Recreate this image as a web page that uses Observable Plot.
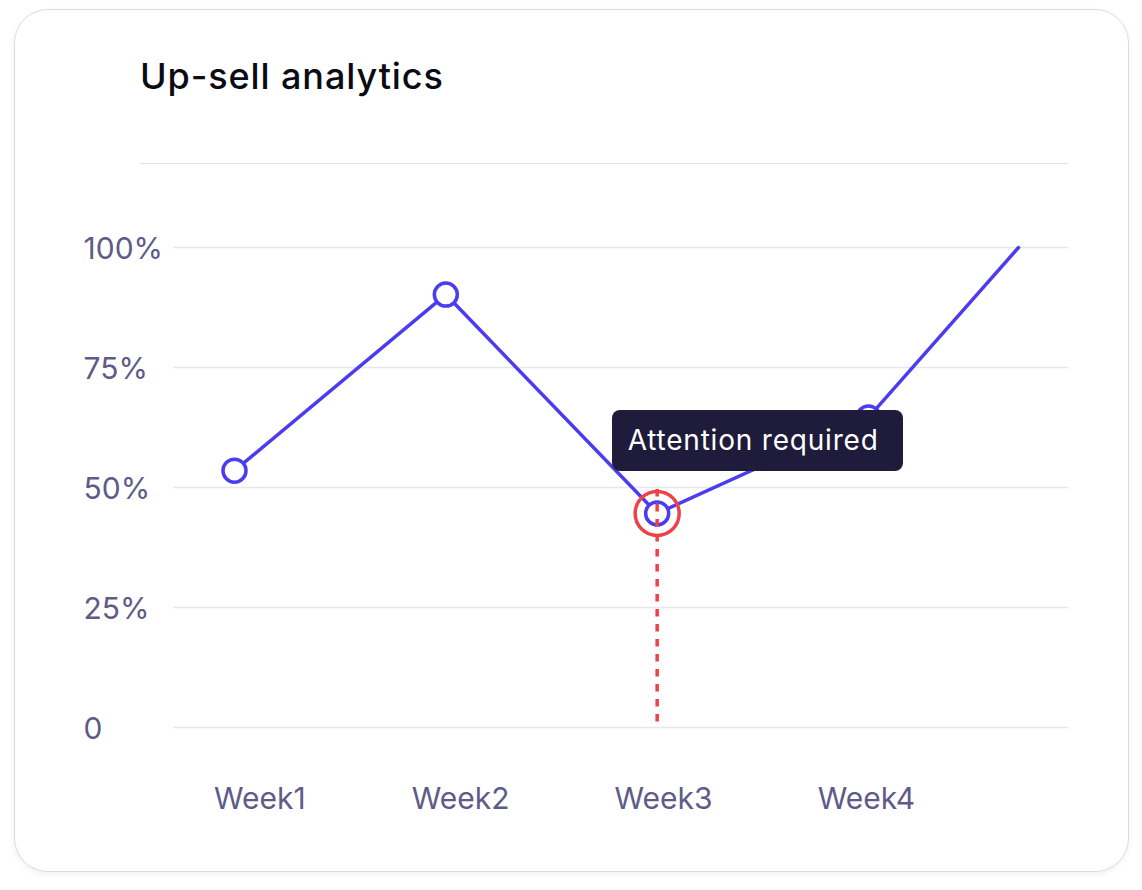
<!DOCTYPE html>
<html>
<head>
<meta charset="utf-8">
<script src="https://cdn.jsdelivr.net/npm/d3@7"></script>
<script src="https://cdn.jsdelivr.net/npm/@observablehq/plot@0.6"></script>
<style>
  html, body { margin: 0; padding: 0; background: #ffffff; }
  #wrap { position: relative; width: 1142px; height: 890px; overflow: hidden; font-family: Inter, "Noto Sans", sans-serif; }
  .card { position: absolute; left: 14px; top: 9px; width: 1113px; height: 861px; border: 1.5px solid #dcdce0; border-radius: 34px; background: #fff; box-shadow: 0 2px 6px rgba(0,0,0,0.06); }
  #chart { position: absolute; left: 0; top: 0; }
  .title { position: absolute; left: 140px; top: 54px; font-size: 36px; font-weight: 500; color: #0b0b14; letter-spacing: 0.9px; }
  .divider { position: absolute; left: 140px; top: 163px; width: 928px; height: 0; border-top: 1.5px solid #e6e6ee; }
  .tip { position: absolute; background: #1e1b3b; color: #ffffff; border-radius: 8px; font-size: 28px; letter-spacing: 0.8px; box-sizing: border-box; padding-left: 16px; display: flex; align-items: center; }
</style>
</head>
<body>
<div id="wrap">
  <div class="card"></div>
  <div id="chart"></div>
  <div class="title">Up-sell analytics</div>
  <div class="divider"></div>
  <div class="tip" id="tip">Attention required</div>
</div>
<script>
// ---- data ----
const weeks = ["Week1", "Week2", "Week3", "Week4"];
const pointX = [0, 1, 2, 3, 3.71];          // position along the week axis
const values = [53.5, 90.2, 44.6, 64.6, 100]; // percent
const labelX = [0.12, 1.07, 2.03, 2.99];     // where the week labels sit
const yTicks = [0, 25, 50, 75, 100];
const yTickLabels = ["0", "25%", "50%", "75%", "100%"];
const alertIndex = 2;
const alertText = "Attention required";

const series = pointX.map((x, i) => ({x, v: values[i]}));
const dots = series.slice(0, weeks.length);
const alert = [series[alertIndex]];

const blue = "#4b3cf0";
const red = "#ef4146";
const axisColor = "#5f5b88";

const plot = Plot.plot({
  width: 1142,
  height: 890,
  marginLeft: 173,
  marginRight: 74,
  marginTop: 247,
  marginBottom: 163,
  style: {background: "transparent", fontFamily: "Inter, sans-serif", overflow: "visible"},
  x: {type: "linear", domain: [0, 3], range: [234, 868], axis: null},
  y: {domain: [0, 100], axis: null},
  marks: [
    Plot.ruleY(yTicks, {stroke: "#e6e6ee", strokeWidth: 1.5}),
    Plot.text(yTicks, {y: d => d, text: (d, i) => yTickLabels[i], frameAnchor: "left", textAnchor: "start", dx: -90, dy: 2, fontSize: 30, fill: axisColor}),
    Plot.text(weeks, {x: (d, i) => labelX[i], text: d => d, frameAnchor: "bottom", dy: 81, fontSize: 30, letterSpacing: 0.6, fill: axisColor}),
    Plot.line(series, {x: "x", y: "v", stroke: blue, strokeWidth: 3.5}),
    Plot.dot(dots, {x: "x", y: "v", r: 11.5, fill: "white", stroke: blue, strokeWidth: 3.5}),
    Plot.dot(alert, {x: "x", y: "v", r: 22, fill: "none", stroke: red, strokeWidth: 3.5}),
    Plot.ruleX(alert, {x: "x", y1: "v", y2: 0, stroke: red, strokeWidth: 3.5, strokeDasharray: "7.5,7.5", insetTop: -24})
  ]
});
document.getElementById("chart").appendChild(plot);

// tooltip anchored on the alert point via the plot's scales
const sx = plot.scale("x"), sy = plot.scale("y");
const px = sx.apply(pointX[alertIndex]), py = sy.apply(values[alertIndex]);
const tip = document.getElementById("tip");
tip.textContent = alertText;
tip.style.left = (px - 45) + "px";
tip.style.top = (py - 103) + "px";
tip.style.width = "291px";
tip.style.height = "61px";
</script>
</body>
</html>
